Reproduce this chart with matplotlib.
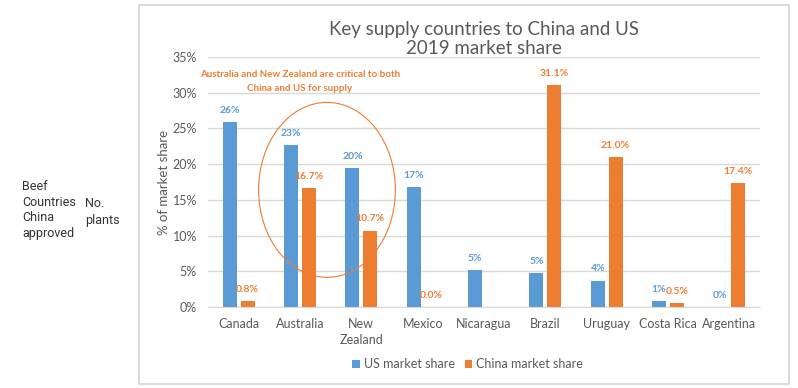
import numpy as np
import matplotlib.pyplot as plt
from matplotlib.patches import Ellipse, Rectangle

plt.rcParams['font.family'] = ['Lato', 'DejaVu Sans']

# ----------- DATA ------------
countries = ["Canada", "Australia", "New\nZealand", "Mexico", "Nicaragua",
             "Brazil", "Uruguay", "Costa Rica", "Argentina"]
us_share = [25.9, 22.7, 19.5, 16.8, 5.2, 4.7, 3.7, 0.8, 0.0]
china_share = [0.8, 16.7, 10.7, 0.0, np.nan, 31.1, 21.0, 0.5, 17.4]
us_labels = ["26%", "23%", "20%", "17%", "5%", "5%", "4%", "1%", "0%"]
china_labels = ["0.8%", "16.7%", "10.7%", "0.0%", "", "31.1%", "21.0%", "0.5%", "17.4%"]
yticks = [0, 5, 10, 15, 20, 25, 30, 35]

BLUE = "#5b9bd5"
ORANGE = "#ed7d31"
GREY = "#595959"

fig = plt.figure(figsize=(7.98, 3.88), dpi=100)

# chart frame
fig.patches.append(Rectangle((139 / 798, 1 - 384 / 388), (789 - 139) / 798, (384 - 5) / 388,
                             transform=fig.transFigure, fill=False,
                             edgecolor="#d4d4d4", linewidth=1.2))

# left side text
fig.text(22 / 798, 1 - 210 / 388, "Beef\nCountries\nChina\napproved", fontsize=9,
         family="Roboto", color="#333333", va="center", ha="left", linespacing=1.25)
fig.text(85 / 798, 1 - 212 / 388, "No.\nplants", fontsize=9,
         family="Roboto", color="#333333", va="center", ha="left", linespacing=1.45)

ax = fig.add_axes([208 / 798, 1 - 307 / 388, (760 - 208) / 798, (307 - 57) / 388])

x = np.arange(len(countries))
w = 0.23
ax.bar(x - w / 2 - 0.03, us_share, w, color=BLUE, label="US market share")
ax.bar(x + w / 2 + 0.03, china_share, w, color=ORANGE, label="China market share")

for i in range(len(countries)):
    ax.text(x[i] - w / 2 - 0.03, us_share[i] + 1.0, us_labels[i], ha="center", va="bottom",
            fontsize=7.5, color=BLUE, fontweight="bold")
    if china_labels[i]:
        ax.text(x[i] + w / 2 + 0.03, china_share[i] + 1.0, china_labels[i], ha="center",
                va="bottom", fontsize=7.5, color=ORANGE, fontweight="bold")

ax.set_ylim(0, 35)
ax.set_xlim(-0.5, len(countries) - 0.5)
ax.set_yticks(yticks)
ax.set_yticklabels([f"{t}%" for t in yticks])
ax.set_xticks(x)
ax.set_xticklabels(countries, linespacing=1.4)
ax.tick_params(axis="both", length=0, labelsize=9, colors=GREY)
ax.tick_params(axis="y", pad=8)
ax.tick_params(axis="x", pad=8)
ax.grid(axis="y", color="#d9d9d9", linewidth=1)
ax.set_axisbelow(True)
for s in ["top", "right", "left"]:
    ax.spines[s].set_visible(False)
ax.spines["bottom"].set_color("#d9d9d9")

ax.set_ylabel("% of market share", fontsize=9.5, color=GREY, labelpad=2)

ax.set_title("Key supply countries to China and US\n2019 market share", fontsize=13.5,
             color=GREY, pad=2, linespacing=1.15)

# annotation
ax.text(1.0, 31.6, "Australia and New Zealand are critical to both\nChina and US for supply",
        ha="center", va="center", fontsize=7.0, color=ORANGE, fontweight="bold",
        linespacing=1.7)
ax.add_patch(Ellipse((1.44, 16.4), 2.23, 24.5, fill=False, edgecolor=ORANGE, linewidth=0.8))

ax.legend(loc="upper center", bbox_to_anchor=(0.47, -0.16), ncol=2, frameon=False,
          fontsize=9, handlelength=0.6, handleheight=0.6, handletextpad=0.3,
          columnspacing=0.8, labelcolor=GREY)

fig.savefig("out.png", dpi=100)
